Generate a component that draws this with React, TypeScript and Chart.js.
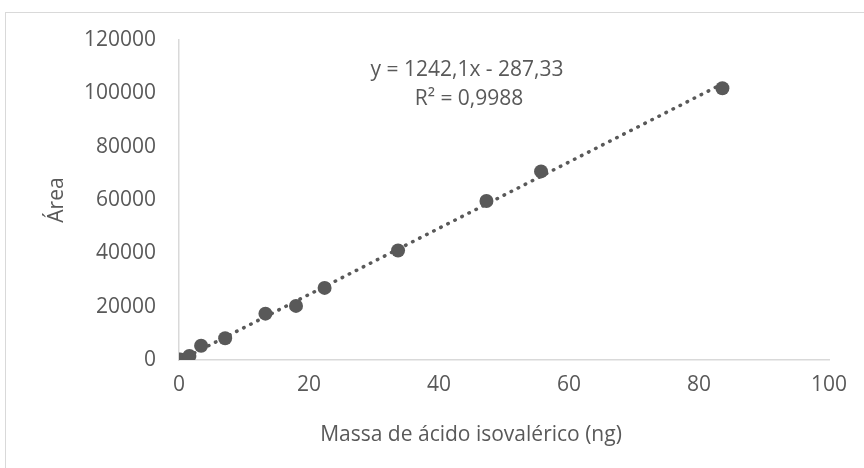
import React, { useEffect, useRef } from "react";
import { Chart, registerables } from "chart.js";

Chart.register(...registerables);

const massX: number[] = [0.2, 1.6, 3.4, 7.1, 13.3, 18.0, 22.4, 33.7, 47.3, 55.7, 83.6];
const areaY: number[] = [200, 1500, 5370, 8150, 17390, 20280, 27040, 41050, 59600, 70720, 101900];
const slope = 1242.1;
const intercept = -287.33;
const equationLines: string[] = ["y = 1242,1x - 287,33", "R² = 0,9988"];
const xTitle = "Massa de ácido isovalérico (ng)";
const yTitle = "Área";
const xTicks: number[] = [0, 20, 40, 60, 80, 100];
const yTicks: number[] = [0, 20000, 40000, 60000, 80000, 100000, 120000];

const FONT = "'Open Sans', sans-serif";
const GREY = "#595959";

export default function App() {
  const ref = useRef<HTMLCanvasElement | null>(null);
  useEffect(() => {
    if (!ref.current) return;
    const xMin = Math.min(...massX);
    const xMax = Math.max(...massX);
    const textPlugin = {
      id: "texts",
      afterDraw(chart: any) {
        const ctx = chart.ctx;
        ctx.save();
        ctx.fillStyle = GREY;
        ctx.font = `21px ${FONT}`;
        ctx.textAlign = "center";
        ctx.textBaseline = "middle";
        ctx.fillText(equationLines[0], 467, 70);
        ctx.fillText(equationLines[1], 469, 99);
        ctx.fillText(xTitle, 471, 435);
        ctx.restore();
      },
    };
    const chart = new Chart(ref.current, {
      type: "scatter",
      data: {
        datasets: [
          {
            data: massX.map((x, i) => ({ x, y: areaY[i] })),
            backgroundColor: GREY,
            borderWidth: 0,
            pointRadius: 7,
            pointHoverRadius: 7,
          },
          {
            type: "line",
            data: [
              { x: xMin, y: slope * xMin + intercept },
              { x: xMax, y: slope * xMax + intercept },
            ],
            borderColor: GREY,
            borderWidth: 3.5,
            borderDash: [0.5, 7.4],
            borderCapStyle: "round",
            pointRadius: 0,
            fill: false,
          } as any,
        ],
      },
      options: {
        animation: false,
        responsive: false,
        maintainAspectRatio: false,
        layout: { padding: { left: 0, top: 40, right: 35, bottom: 0 } },
        plugins: { legend: { display: false }, tooltip: { enabled: false } },
        scales: {
          x: {
            type: "linear",
            min: 0,
            max: 100,
            afterBuildTicks: (s: any) => { s.ticks = xTicks.map((v) => ({ value: v })); },
            afterFit: (s: any) => { s.height = 108; },
            grid: { display: false, drawTicks: false },
            border: { display: true, color: "#d9d9d9", width: 1.5 },
            ticks: { color: GREY, font: { family: FONT, size: 21 }, padding: 12 },
            title: { display: false, text: xTitle },
          },
          y: {
            type: "linear",
            min: 0,
            max: 120000,
            afterBuildTicks: (s: any) => { s.ticks = yTicks.map((v) => ({ value: v })); },
            afterFit: (s: any) => { s.width = 179; },
            grid: { display: false, drawTicks: false },
            border: { display: true, color: "#d9d9d9", width: 1.5 },
            ticks: { color: GREY, font: { family: FONT, size: 21 }, padding: 23, callback: (v: any) => String(v) },
            title: {
              display: true,
              text: yTitle,
              color: GREY,
              font: { family: FONT, size: 21 },
              padding: { top: 44, bottom: 0 },
            },
          },
        },
      },
      plugins: [textPlugin],
    });
    return () => chart.destroy();
  }, []);
  return (
    <div style={{ position: "absolute", left: 0, top: 0, width: 864, height: 468, background: "#fff", overflow: "hidden" }}>
      <div style={{ position: "absolute", left: 5, top: 12, width: 900, height: 500, border: "1px solid #d9d9d9" }} />
      <canvas ref={ref} width={864} height={468} style={{ position: "absolute", left: 0, top: 0, width: 864, height: 468 }} />
    </div>
  );
}
